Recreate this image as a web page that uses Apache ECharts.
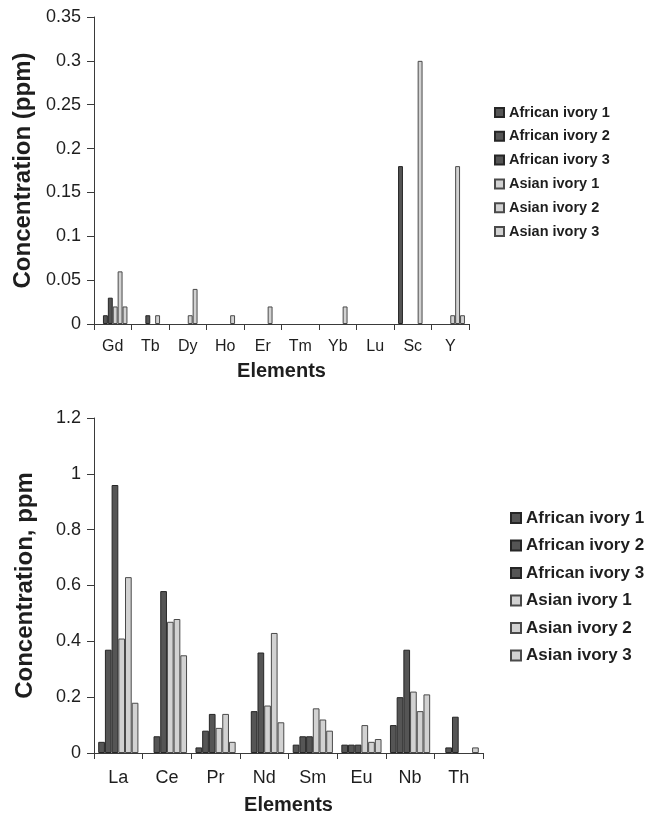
<!DOCTYPE html>
<html>
<head>
<meta charset="utf-8">
<script src="https://cdn.jsdelivr.net/npm/echarts@6/dist/echarts.min.js"></script>
<style>
html,body{margin:0;padding:0;background:#fff;}
#chart{width:646px;height:817px;}
</style>
</head>
<body>
<div id="chart"></div>
<script>
// ---- Data ----
var seriesNames = ['African ivory 1','African ivory 2','African ivory 3','Asian ivory 1','Asian ivory 2','Asian ivory 3'];

var topCategories = ['Gd','Tb','Dy','Ho','Er','Tm','Yb','Lu','Sc','Y'];
var topAfrican1 = [0, 0, 0, 0, 0, 0, 0, 0, 0.18, 0];
var topAfrican2 = [0.01, 0, 0, 0, 0, 0, 0, 0, 0, 0];
var topAfrican3 = [0.03, 0.01, 0, 0, 0, 0, 0, 0, 0, 0];
var topAsian1   = [0.02, 0, 0.01, 0, 0, 0, 0, 0, 0, 0.01];
var topAsian2   = [0.06, 0.01, 0.04, 0.01, 0.02, 0, 0.02, 0, 0.30, 0.18];
var topAsian3   = [0.02, 0, 0, 0, 0, 0, 0, 0, 0, 0.01];
var topTicks = {min: 0, max: 0.35, interval: 0.05};

var botCategories = ['La','Ce','Pr','Nd','Sm','Eu','Nb','Th'];
var botAfrican1 = [0.04, 0, 0.02, 0, 0.03, 0.03, 0.10, 0];
var botAfrican2 = [0.37, 0.06, 0.08, 0.15, 0.06, 0.03, 0.20, 0.02];
var botAfrican3 = [0.96, 0.58, 0.14, 0.36, 0.06, 0.03, 0.37, 0.13];
var botAsian1   = [0.41, 0.47, 0.09, 0.17, 0.16, 0.10, 0.22, 0];
var botAsian2   = [0.63, 0.48, 0.14, 0.43, 0.12, 0.04, 0.15, 0];
var botAsian3   = [0.18, 0.35, 0.04, 0.11, 0.08, 0.05, 0.21, 0.02];
var botTicks = {min: 0, max: 1.2, interval: 0.2};

// ---- Styling ----
var DARK = {color: '#555555', borderColor: '#262626', borderWidth: 1};
var LIGHT = {color: '#d2d2d2', borderColor: '#4a4a4a', borderWidth: 1};
var styles = [DARK, DARK, DARK, LIGHT, LIGHT, LIGHT];
var FONT = '"Liberation Sans", Arial, sans-serif';
var TXT = '#1e1e1e';
var AX = '#3a3a3a';

function hideZero(arr){ return arr.map(function(v){ return v === 0 ? '-' : v; }); }

var topData = [topAfrican1, topAfrican2, topAfrican3, topAsian1, topAsian2, topAsian3];
var botData = [botAfrican1, botAfrican2, botAfrican3, botAsian1, botAsian2, botAsian3];

var series = [];
seriesNames.forEach(function(n, i){
  series.push({name: n, type: 'bar', xAxisIndex: 0, yAxisIndex: 0, data: hideZero(topData[i]),
    barWidth: 4.9, barGap: '0%', itemStyle: styles[i], emphasis: {disabled: true}, animation: false});
});
seriesNames.forEach(function(n, i){
  series.push({name: n, type: 'bar', xAxisIndex: 1, yAxisIndex: 1, data: hideZero(botData[i]),
    barWidth: 6.7, barGap: '0%', itemStyle: styles[i], emphasis: {disabled: true}, animation: false});
});

function catAxis(idx, cats, fontSize, margin, nameGap){
  return {
    type: 'category', gridIndex: idx, data: cats, boundaryGap: true,
    axisLine: {lineStyle: {color: AX, width: 1}},
    axisTick: {show: true, length: 6, inside: false, lineStyle: {color: AX}},
    axisLabel: {color: TXT, fontFamily: FONT, fontSize: fontSize, margin: margin, interval: 0},
    name: 'Elements', nameLocation: 'middle', nameGap: nameGap,
    nameTextStyle: {color: TXT, fontFamily: FONT, fontWeight: 'bold', fontSize: 20}
  };
}
function valAxis(idx, t, name, nameGap){
  return {
    type: 'value', gridIndex: idx, min: t.min, max: t.max, interval: t.interval,
    splitLine: {show: false},
    axisLine: {show: true, lineStyle: {color: AX, width: 1}},
    axisTick: {show: true, length: 7, lineStyle: {color: AX}},
    axisLabel: {color: TXT, fontFamily: FONT, fontSize: 18, margin: 13},
    name: name, nameLocation: 'middle', nameGap: nameGap,
    nameTextStyle: {color: TXT, fontFamily: FONT, fontWeight: 'bold', fontSize: 24}
  };
}

var chart = echarts.init(document.getElementById('chart'), null, {renderer: 'canvas'});
chart.setOption({
  animation: false,
  backgroundColor: '#ffffff',
  grid: [
    {left: 94, top: 17, width: 375, height: 307},
    {left: 94, top: 418, width: 389, height: 335}
  ],
  xAxis: [
    catAxis(0, topCategories, 16, 15, 37),
    catAxis(1, botCategories, 18, 16, 42)
  ],
  yAxis: [
    valAxis(0, topTicks, 'Concentration (ppm)', 57),
    valAxis(1, botTicks, 'Concentration, ppm', 57)
  ],
  legend: [
    {data: seriesNames, orient: 'vertical', left: 489, top: 100, itemWidth: 9, itemHeight: 9,
     itemGap: 8.8, icon: 'rect', selectedMode: false,
     textStyle: {color: TXT, fontFamily: FONT, fontWeight: 'bold', fontSize: 14.5, lineHeight: 15}},
    {data: seriesNames, orient: 'vertical', left: 505, top: 504.5, itemWidth: 10, itemHeight: 10,
     itemGap: 10.5, icon: 'rect', selectedMode: false,
     textStyle: {color: TXT, fontFamily: FONT, fontWeight: 'bold', fontSize: 17, lineHeight: 17}}
  ],
  series: series
});
</script>
</body>
</html>
